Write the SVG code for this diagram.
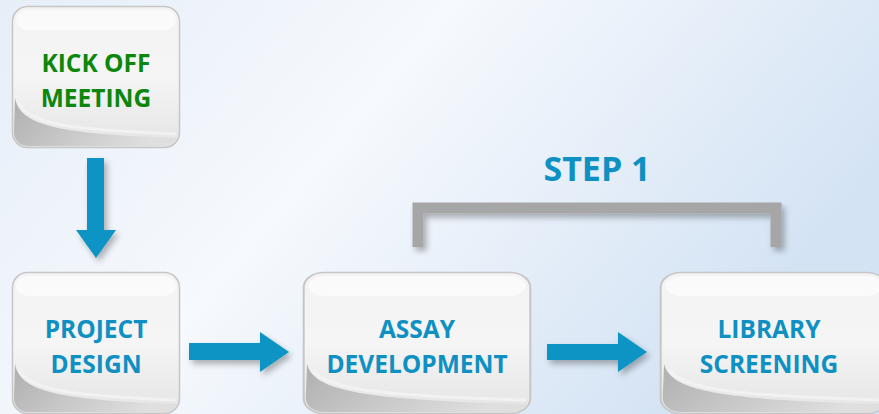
<svg xmlns="http://www.w3.org/2000/svg" width="879" height="414" viewBox="0 0 879 414">
<defs>
<linearGradient id="bg" x1="0" y1="0" x2="1" y2="0.4">
<stop offset="0" stop-color="#e6eef8"/>
<stop offset="0.45" stop-color="#f6f9fd"/>
<stop offset="1" stop-color="#d4e3f4"/>
</linearGradient>
<linearGradient id="boxg" x1="0" y1="0" x2="0" y2="1">
<stop offset="0" stop-color="#f3f3f3"/>
<stop offset="0.5" stop-color="#f5f5f5"/>
<stop offset="1" stop-color="#e4e4e4"/>
</linearGradient>
<linearGradient id="swoosh" x1="0" y1="0" x2="1" y2="0.3">
<stop offset="0" stop-color="#a8a8a8"/>
<stop offset="0.5" stop-color="#c4c4c4"/>
<stop offset="1" stop-color="#dedede"/>
</linearGradient>
<filter id="sh" x="-20%" y="-20%" width="150%" height="150%">
<feGaussianBlur in="SourceAlpha" stdDeviation="3"/>
<feOffset dx="3" dy="4"/>
<feComponentTransfer><feFuncA type="linear" slope="0.3"/></feComponentTransfer>
<feMerge><feMergeNode/><feMergeNode in="SourceGraphic"/></feMerge>
</filter>
<g id="card">
<rect x="0.5" y="0.5" width="167" height="141" rx="15" fill="url(#boxg)" stroke="#c6c6c6" stroke-width="1.5"/>
<path d="M3 92 C8 118 40 128 166 132 C163 138 158 140 152 140 L16 140 C8 140 2 134 2 126 Z" fill="url(#swoosh)" opacity="0.9"/>
<path d="M7 98 C18 118 60 124 164 128" fill="none" stroke="#f4f4f4" stroke-width="3" opacity="0.8"/>
<rect x="4" y="4" width="160" height="20" rx="12" fill="#ffffff" opacity="0.6"/>
</g>
</defs>
<style>
.lbl{font-family:"Open Sans","Liberation Sans",sans-serif;font-weight:bold;font-size:24.5px;text-anchor:middle}
.blue{fill:#0f90c2}
.green{fill:#0c870c}
.arrow{fill:#0a93c4;filter:url(#sh)}
</style>
<rect width="879" height="414" fill="url(#bg)"/>
<g id="connectors">
<path class="arrow" d="M87 158 H104 V230 H116 L96 258 L76 230 H87 Z"/>
<path class="arrow" d="M189 343 H260 V332 L289 352 L260 372 V360 H189 Z"/>
<path class="arrow" d="M547 344 H618 V332 L647 352 L618 372 V360 H547 Z"/>
<path d="M418 247 V208 H776 V247" fill="none" stroke="#a6a6a6" stroke-width="11" filter="url(#sh)"/>
</g>
<g id="kickoff">
<use href="#card" transform="translate(12,6)"/>
<text class="lbl green" x="96" y="72">KICK OFF</text>
<text class="lbl green" x="96" y="107">MEETING</text>
</g>
<g id="project">
<use href="#card" transform="translate(12,272)"/>
<text class="lbl blue" x="96" y="338">PROJECT</text>
<text class="lbl blue" x="96" y="373">DESIGN</text>
</g>
<g id="assay">
<g transform="translate(303,272) scale(1.357,1)"><use href="#card"/></g>
<text class="lbl blue" x="417" y="338">ASSAY</text>
<text class="lbl blue" x="417" y="373">DEVELOPMENT</text>
</g>
<g id="library">
<g transform="translate(660,272) scale(1.357,1)"><use href="#card"/></g>
<text class="lbl blue" x="769" y="338">LIBRARY</text>
<text class="lbl blue" x="769" y="373">SCREENING</text>
</g>
<g id="step">
<text class="lbl blue" x="597" y="181" style="font-size:34px">STEP 1</text>
</g>
</svg>
